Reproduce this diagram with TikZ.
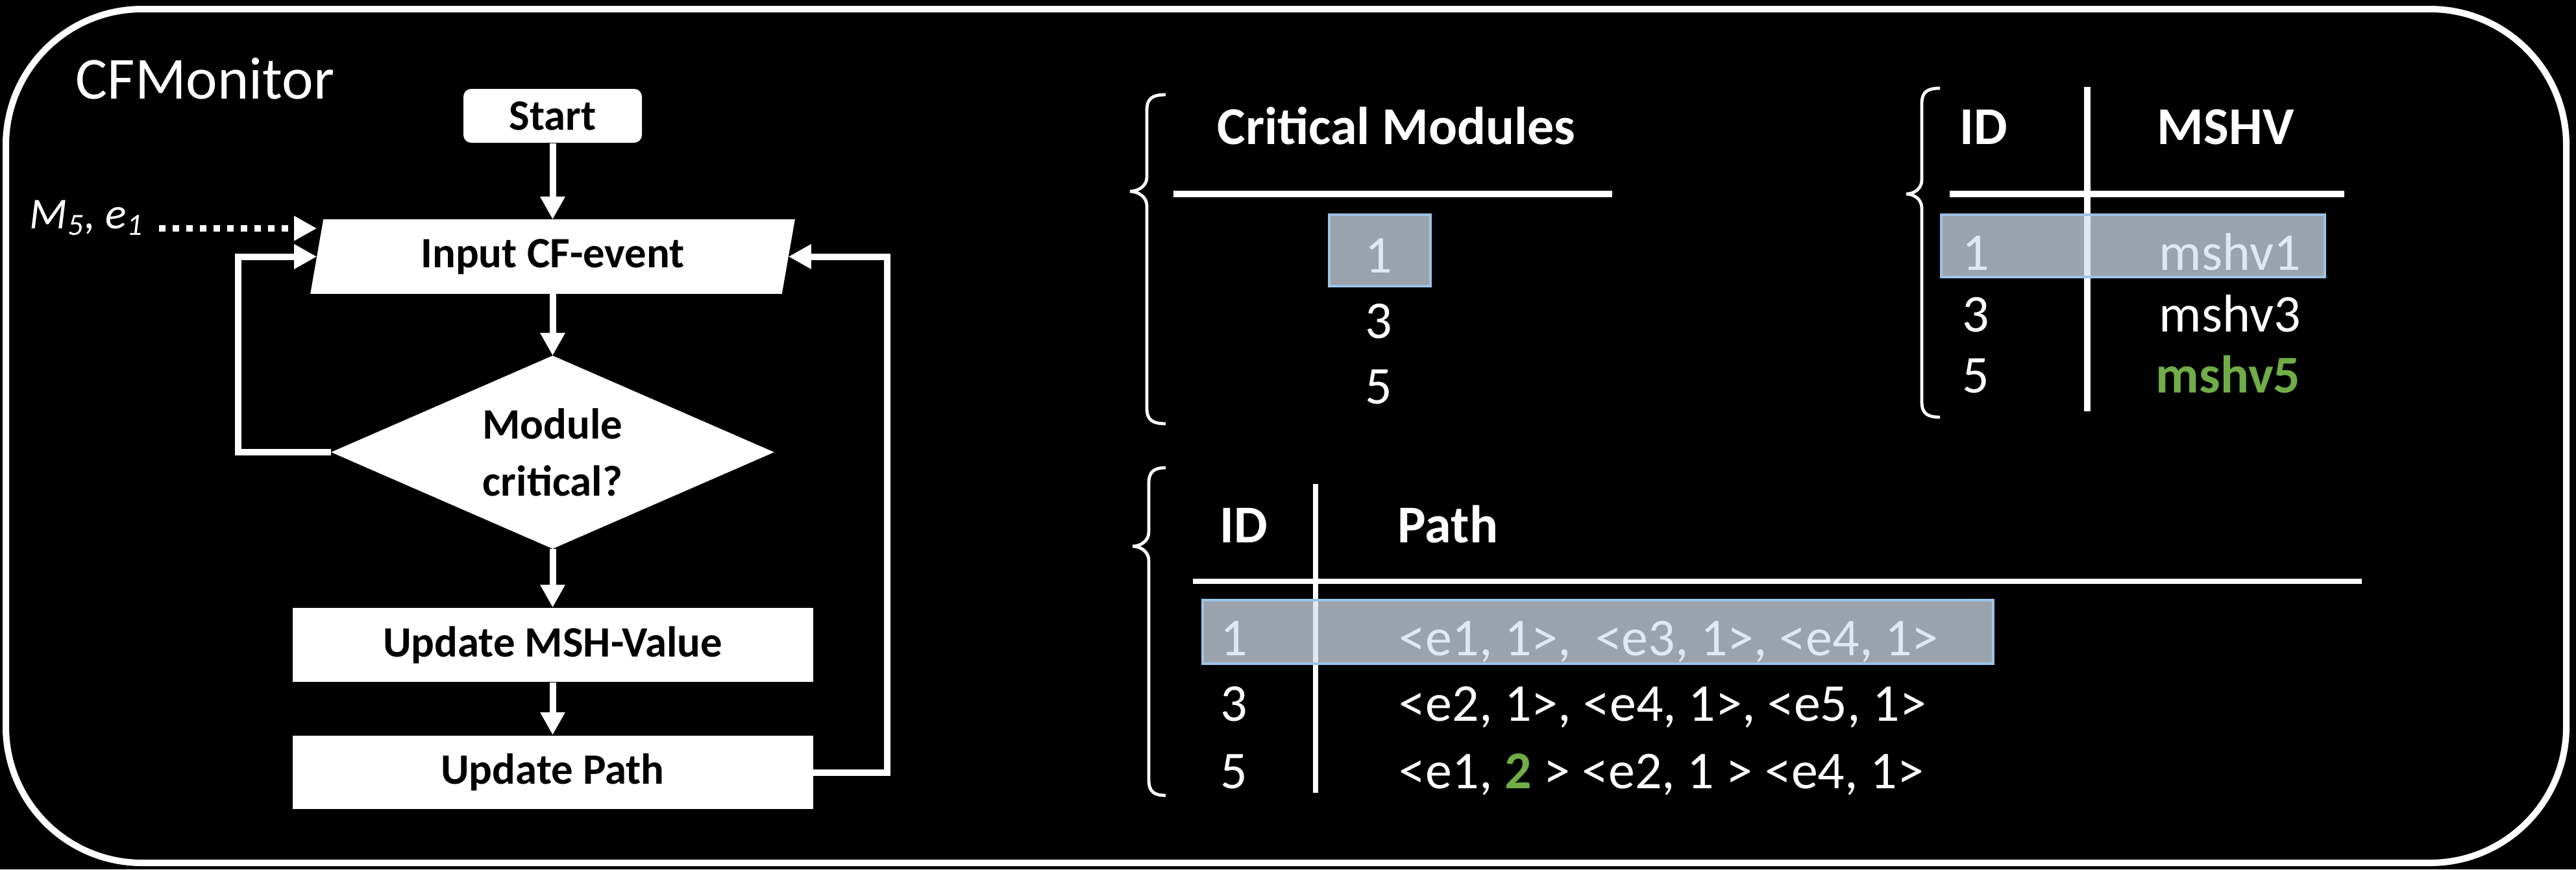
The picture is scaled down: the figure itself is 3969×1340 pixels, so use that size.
\documentclass[tikz,border=0pt]{standalone}
\usepackage{fontspec}
\setmainfont{Carlito}
\usetikzlibrary{arrows.meta}
\definecolor{okgreen}{RGB}{112,173,71}
\definecolor{hlfill}{RGB}{212,224,236}
\definecolor{hledge}{RGB}{157,195,230}
\pgfdeclarelayer{bg}
\pgfsetlayers{bg,main}

\tikzset{
  flowfont/.style={font=\fontsize{16.7}{22}\selectfont\bfseries},
  termbox/.style={flowfont, fill=white, text=black, rounded corners=3pt, inner sep=0pt,
                  minimum width=68.75pt, minimum height=20.75pt},
  procbox/.style={flowfont, fill=white, text=black, inner sep=0pt,
                  minimum width=200.5pt, minimum height=28.4pt},
  holder/.style={flowfont, text=black, inner sep=0pt, align=center},
  flow/.style={white, line width=2.5pt, -{Triangle[width=9pt,length=8.75pt]}},
  dotflow/.style={flow, dash pattern=on 2.5pt off 2.75pt},
  tabtext/.style={text=white, inner sep=0pt, font=\fontsize{20.5}{24}\selectfont},
  tabhead/.style={text=white, inner sep=0pt, font=\fontsize{20.5}{24}\selectfont\bfseries},
  rulebar/.style={white, line width=2.5pt},
  thinrule/.style={white, line width=2pt},
  brc/.style={white, line width=1.2pt},
  hilite/.style={fill=hlfill, fill opacity=0.73, draw=hledge, draw opacity=1, line width=1pt},
}

% left curly brace: vertical x, tip x, hook x, top y, tip y, bottom y
\newcommand\drawcurly[6]{%
  \draw[brc] (#3,#4) .. controls (#1+8,#4) and (#1,#4+6) .. (#1,#4+24)
    -- (#1,#5-22) .. controls (#1,#5-8) and (#2+12,#5) .. (#2,#5)
    .. controls (#2+12,#5) and (#1,#5+8) .. (#1,#5+22)
    -- (#1,#6-24) .. controls (#1,#6-6) and (#1+8,#6) .. (#3,#6);}

\begin{document}
\begin{tikzpicture}[x=0.25pt, y=-0.25pt]

% ---------- flowchart ----------
\node[termbox] (start) at (851.5,178.5) {Start};
\node[holder, minimum width=181.25pt, minimum height=28.25pt] (input) at (851.5,395.5) {Input CF-event};
\node[holder, minimum width=170.25pt, minimum height=74pt] (crit) at (851.5,697) {Module\\critical?};
\node[procbox] (msh) at (851.5,994) {Update MSH-Value};
\node[procbox] (upath) at (851.5,1190.5) {Update Path};

\begin{pgfonlayer}{bg}
  \fill[black] (0,0) rectangle (3969,1340);
  \fill[white] ([xshift=2.5pt]input.north west) -- ([xshift=2.5pt]input.north east)
    -- ([xshift=-2.5pt]input.south east) -- ([xshift=-2.5pt]input.south west) -- cycle;
  \fill[white] (crit.north) -- (crit.east) -- (crit.south) -- (crit.west) -- cycle;
\end{pgfonlayer}

% outer frame
\draw[white, line width=2.5pt, rounded corners=52.5pt] (9,14) rectangle (3954,1330);

\node[anchor=base west, text=white, inner sep=0pt, font=\fontsize{23}{28}\selectfont] (title) at (116,152) {CFMonitor};

\draw[flow] (start) -- (input);
\draw[flow] (input) -- (crit);
\draw[flow] (crit) -- (msh);
\draw[flow] (msh) -- (upath);
\draw[flow] (crit.west) -- ++(-143,0) |- (input.west);
\draw[flow] (upath.east) -- ++(114,0) |- (input.east);

\node[anchor=base east, text=white, inner sep=0pt, font=\fontsize{17}{20}\selectfont\itshape] (ev) at (222,352) {M\textsubscript{5}, e\textsubscript{1}};
\draw[dotflow] ([xshift=5.75pt]ev.base east) -- (ev.base east -| input.west);

% ---------- critical modules ----------
\drawcurly{1767}{1741}{1796}{146}{295}{653}
\node[tabhead, anchor=base west] (cmhead) at (1875,222) {Critical Modules};
\draw[rulebar] (1808,299) -- (2484,299);
\node[tabtext, anchor=base] (cm1) at (2124,420) {1};
\node[tabtext, anchor=base] (cm3) at (2124,521) {3};
\node[tabtext, anchor=base] (cm5) at (2124,622) {5};
\draw[hilite] (2048,331) rectangle (2204,441);

% ---------- module hash values ----------
\drawcurly{2961}{2937}{2989}{136}{299}{643}
\node[tabhead, anchor=base west] (mhid) at (3019,222) {ID};
\node[tabhead, anchor=base west] (mhval) at (3323,222) {MSHV};
\draw[rulebar] (3216,134) -- (3216,634);
\draw[rulebar] (3004,299) -- (3612,299);
\node[tabtext, anchor=base west] (mh1) at (3023,416) {1};
\node[tabtext, anchor=base west] (mv1) at (3326,416) {mshv1};
\node[tabtext, anchor=base west] (mh3) at (3023,511) {3};
\node[tabtext, anchor=base west] (mv3) at (3326,511) {mshv3};
\node[tabtext, anchor=base west] (mh5) at (3023,605) {5};
\node[tabhead, anchor=base west, text=okgreen] (mv5) at (3321,605) {mshv5};
\draw[hilite] (2991,331) rectangle (3582,427);

% ---------- paths ----------
\drawcurly{1770}{1745}{1796}{721}{842}{1226}
\node[tabhead, anchor=base west] (pid) at (1879,836) {ID};
\node[tabhead, anchor=base west] (ppath) at (2153,836) {Path};
\draw[thinrule] (2027,746) -- (2027,1222);
\draw[thinrule] (1838,896) -- (3639,896);
\node[tabtext, anchor=base west] (p1) at (1880,1010) {1};
\node[tabtext, anchor=base west] (q1) at (2155,1010) {<e1, 1>,\ \ <e3, 1>, <e4, 1>};
\node[tabtext, anchor=base west] (p3) at (1880,1111) {3};
\node[tabtext, anchor=base west] (q3) at (2155,1111) {<e2, 1>, <e4, 1>, <e5, 1>};
\node[tabtext, anchor=base west] (p5) at (1880,1215) {5};
\node[tabtext, anchor=base west] (q5) at (2155,1215) {<e1, {\bfseries\color{okgreen}2} > <e2, 1 > <e4, 1>};
\draw[hilite] (1853,925) rectangle (3071,1023);

\end{tikzpicture}
\end{document}
